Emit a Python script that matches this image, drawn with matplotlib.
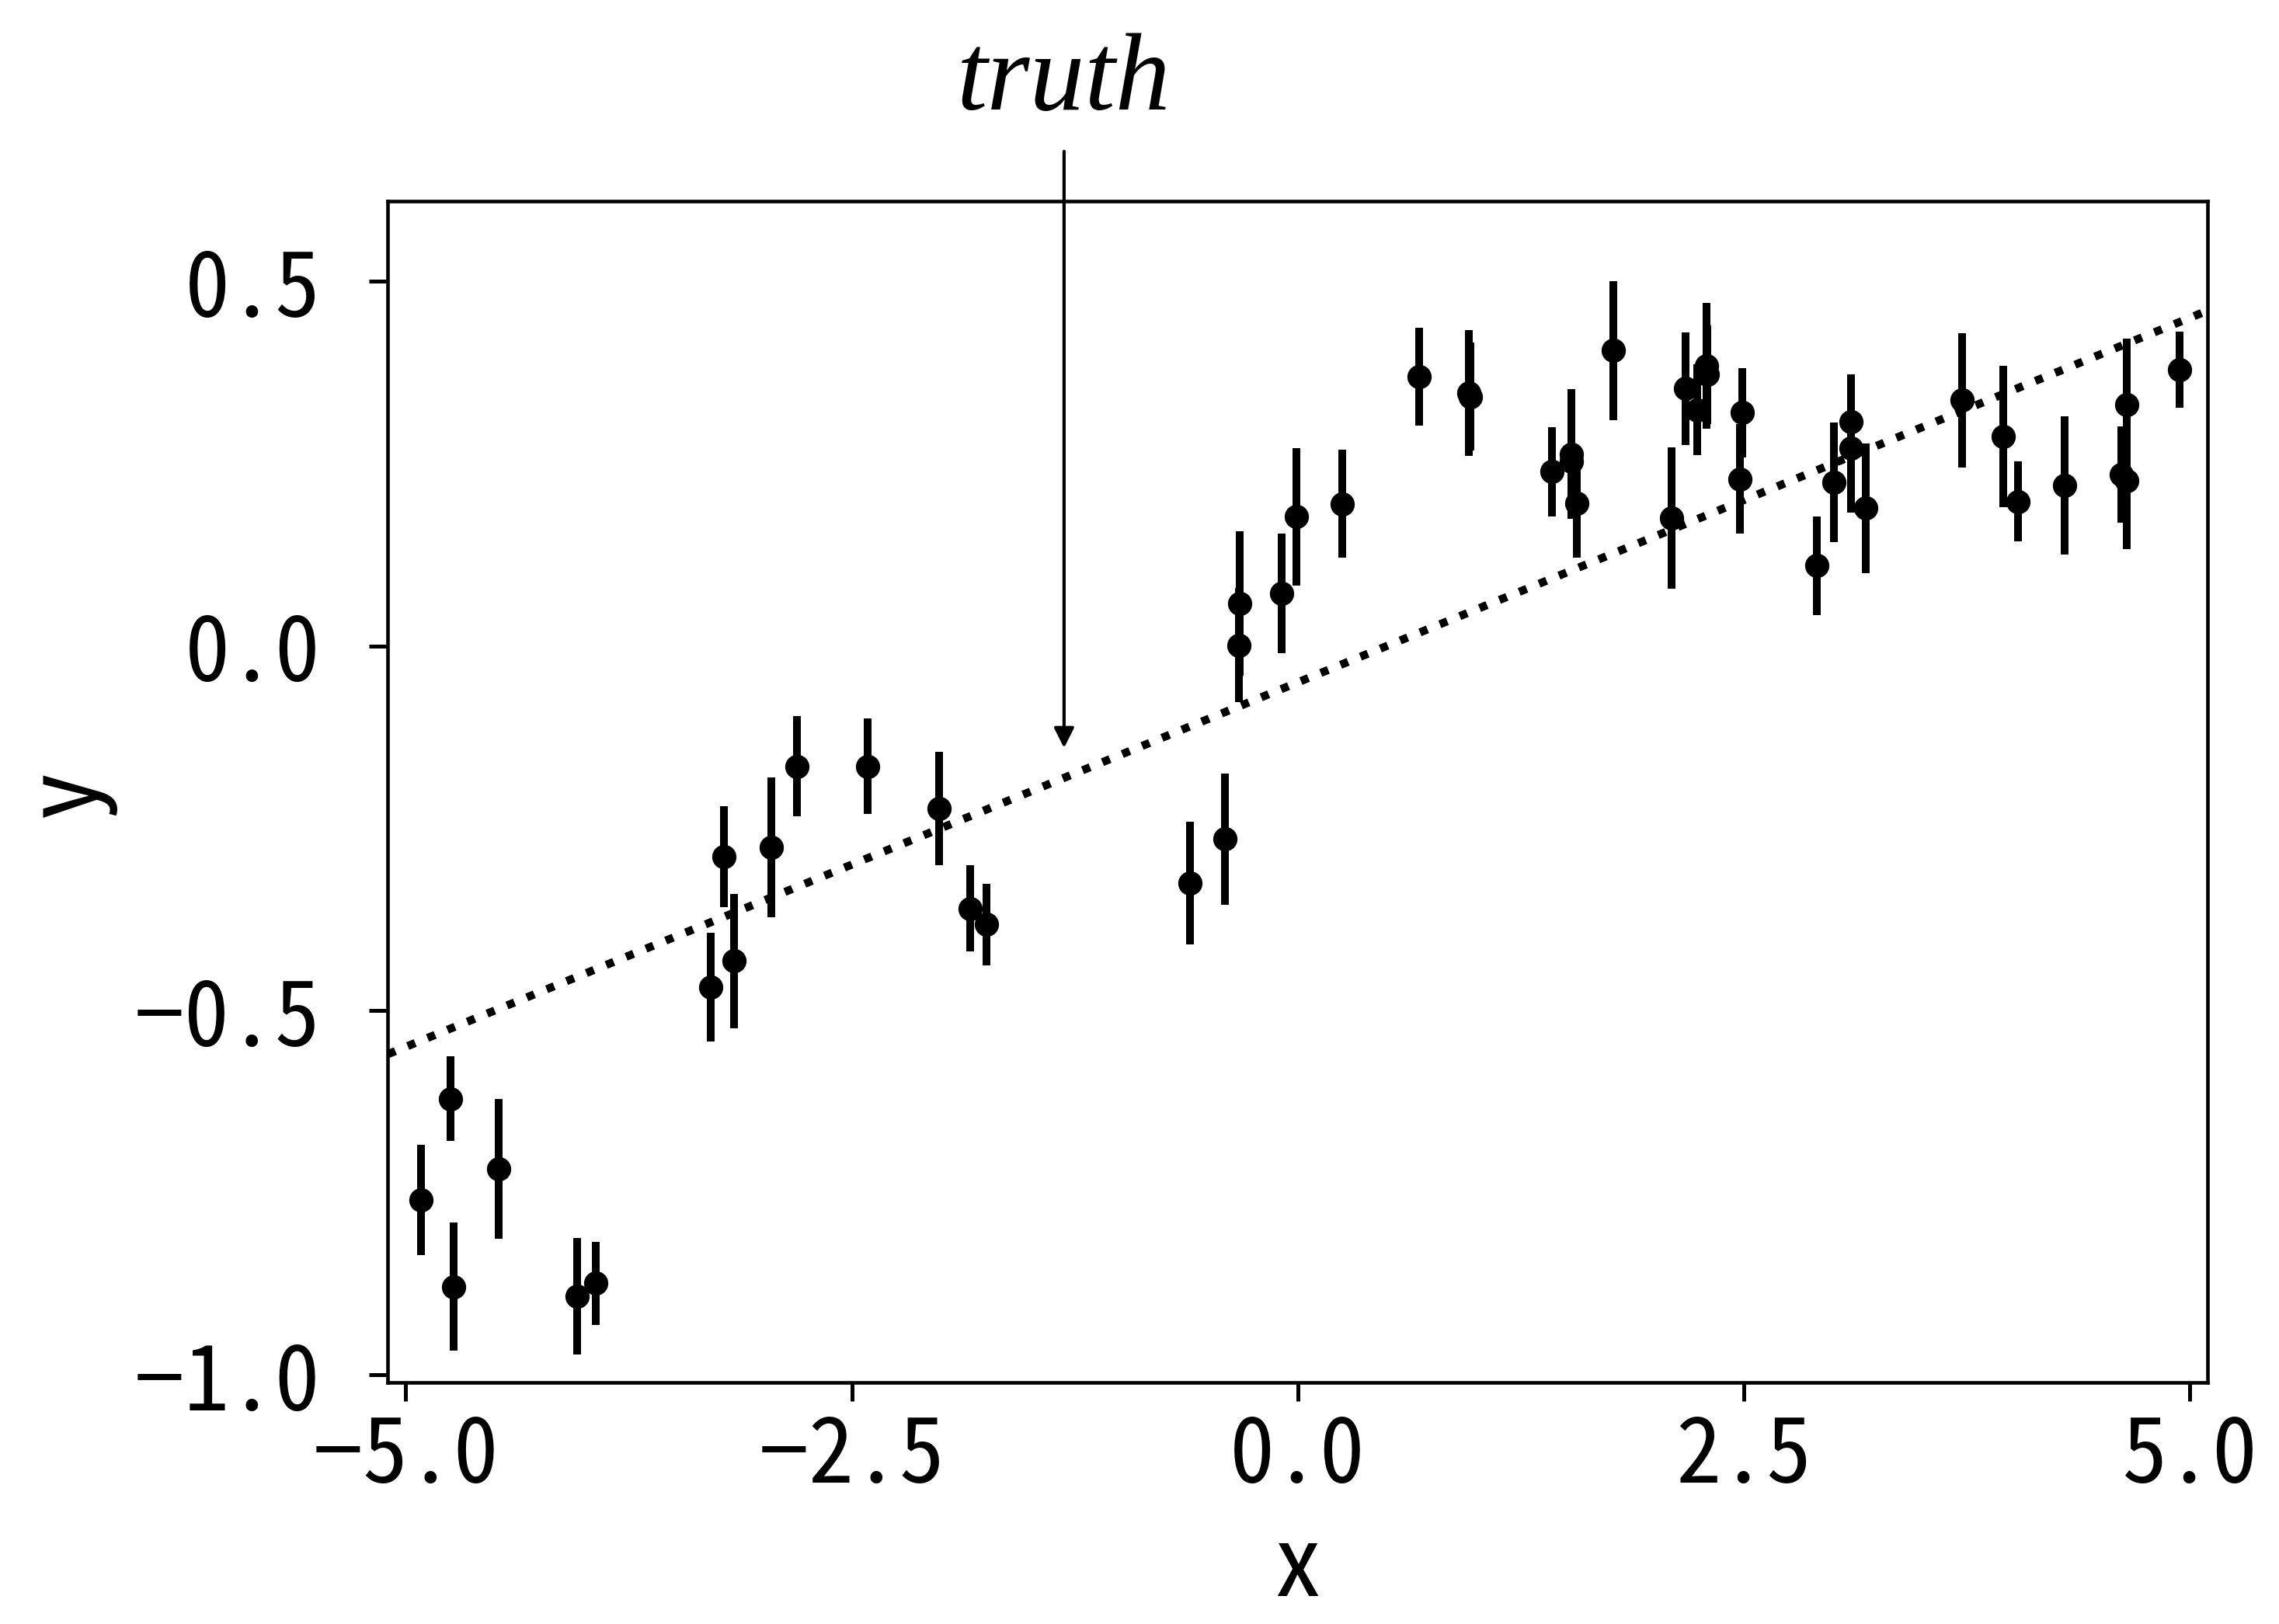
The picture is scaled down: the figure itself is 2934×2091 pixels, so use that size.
import numpy as np
import matplotlib
matplotlib.use("Agg")
import matplotlib.pyplot as plt

plt.rcParams['font.family'] = ['Noto Sans Mono CJK JP', 'Noto Sans CJK JP', 'DejaVu Sans']

# data
x = [-4.915, -4.751, -4.730, -4.478, -4.039, -3.934,
     -3.290, -3.217, -3.159, -2.953, -2.808, -2.412, -2.011, -1.836, -1.743,
     -0.602, -0.410, -0.324, -0.330, -0.090, -0.006, 0.251,
     0.679, 0.958, 0.966, 1.426, 1.535, 1.532, 1.565, 1.770, 2.097, 2.174, 2.238,
     2.293, 2.297, 2.490, 2.478, 2.909, 3.005, 3.100, 3.102, 3.185,
     3.722, 3.953, 4.038, 4.298, 4.616, 4.647, 4.647, 4.941]
y = [-0.760, -0.621, -0.879, -0.717, -0.892, -0.874,
     -0.468, -0.289, -0.432, -0.276, -0.165, -0.165, -0.223, -0.360, -0.382,
     -0.325, -0.265, 0.058, 0.001, 0.072, 0.177, 0.195,
     0.369, 0.347, 0.342, 0.239, 0.263, 0.253, 0.196, 0.405, 0.175, 0.353, 0.324,
     0.384, 0.372, 0.320, 0.229, 0.110, 0.224, 0.308, 0.271, 0.189,
     0.337, 0.287, 0.198, 0.220, 0.235, 0.331, 0.227, 0.379]
yerr = [0.076, 0.058, 0.088, 0.096, 0.080, 0.057,
        0.075, 0.069, 0.092, 0.096, 0.069, 0.066, 0.078, 0.059, 0.056,
        0.084, 0.090, 0.099, 0.078, 0.082, 0.094, 0.074,
        0.067, 0.086, 0.074, 0.061, 0.089, 0.071, 0.075, 0.095, 0.097, 0.077, 0.062,
        0.086, 0.068, 0.061, 0.075, 0.068, 0.082, 0.065, 0.088, 0.089,
        0.092, 0.097, 0.055, 0.095, 0.066, 0.091, 0.094, 0.052]

truth_x = [-5.1, 5.1]
truth_y = [-0.56, 0.46]

fig = plt.figure(figsize=(9.78, 6.9733), dpi=300)
ax = fig.add_axes([0.1702, 0.1488, 0.7985, 0.7269])

ax.errorbar(x, y, yerr=yerr, fmt="o", color="k", ms=6.5, elinewidth=2.4, capsize=0)
ax.plot(truth_x, truth_y, ":k", lw=2.5)

ax.annotate("truth", xy=(-1.31, -0.14), xytext=(-1.31, 0.705),
            ha="center", va="bottom", fontsize=34,
            family=["Liberation Serif"], style="italic",
            arrowprops=dict(arrowstyle="-|>", color="k", lw=1.0,
                            mutation_scale=13, shrinkA=4, shrinkB=0),
            annotation_clip=False)

ax.set_xlim(-5.1, 5.1)
ax.set_ylim(-1.01, 0.61)
ax.set_xticks([-5.0, -2.5, 0.0, 2.5, 5.0])
ax.set_yticks([-1.0, -0.5, 0.0, 0.5])
ax.set_xlabel("x", fontsize=30, labelpad=6)
ax.set_ylabel("y", fontsize=30, labelpad=6)
ax.tick_params(labelsize=28, length=5.8, width=1.2)
ax.tick_params(axis="y", pad=15)
for s in ax.spines.values():
    s.set_linewidth(1.1)

fig.savefig("out.png", dpi=300)
